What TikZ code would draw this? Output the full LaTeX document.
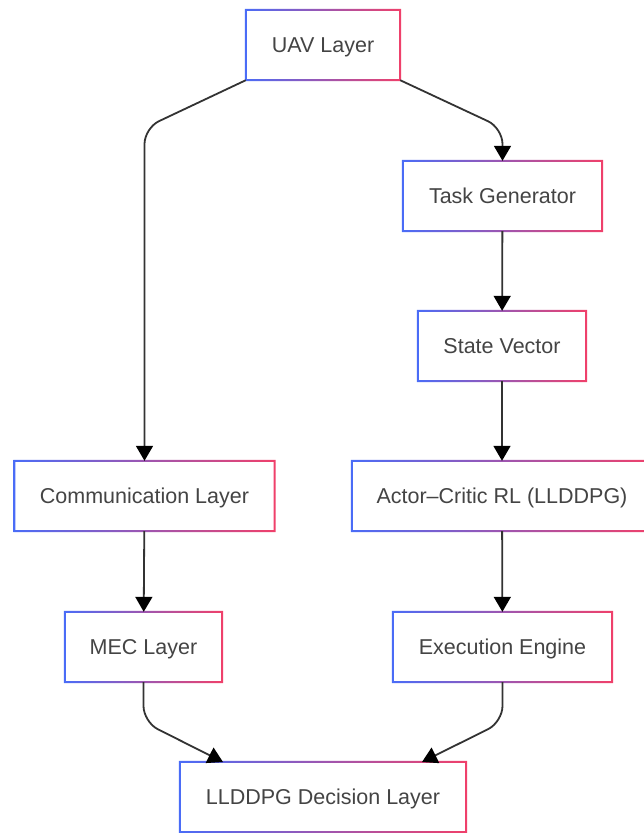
\documentclass[tikz,border=0pt]{standalone}
\usepackage{fontspec}
\setmainfont{Liberation Sans}
\usetikzlibrary{arrows.meta}
\definecolor{edgeblue}{HTML}{4A6CF7}
\definecolor{edgepink}{HTML}{F0406A}
\definecolor{textgray}{HTML}{444444}
\definecolor{linegray}{HTML}{333333}
\tikzset{
	layer/.style={fill=white, text=textgray, font=\fontsize{21.5}{26}\selectfont, minimum height=70pt, inner sep=0pt, text height=15.5pt, text depth=0pt},
	flow/.style={line width=1.8pt, color=linegray, rounded corners=16pt, -{Triangle[width=17pt,length=15pt,color=black]}},
}

\begin{document}
\begin{tikzpicture}[x=1pt, y=-1pt]
			%%%%% START %%%%%
			\useasboundingbox (0, 0) rectangle (644, 833);
			
			\node[layer, minimum width=154pt] (uav) at (323, 45) {UAV Layer};
			\node[layer, minimum width=199pt] (task) at (502.5, 196) {Task Generator};
			\node[layer, minimum width=168pt] (state) at (502, 346) {State Vector};
			\node[layer, minimum width=260pt] (comm) at (144.5, 496) {Communication Layer};
			\node[layer, minimum width=300pt] (actor) at (502, 496) {Actor--Critic RL (LLDDPG)};
			\node[layer, minimum width=157pt] (mec) at (143.5, 647) {MEC Layer};
			\node[layer, minimum width=219pt] (exec) at (502.5, 647) {Execution Engine};
			\node[layer, minimum width=286pt] (decision) at (323, 797) {LLDDPG Decision Layer};
			
			% gradient borders
			\foreach \n in {uav, task, state, comm, actor, mec, exec, decision}
				\shade[left color=edgeblue, right color=edgepink, even odd rule]
					([shift={(-1pt,-1pt)}]\n.south west) rectangle ([shift={(1pt,1pt)}]\n.north east)
					([shift={(1pt,1pt)}]\n.south west) rectangle ([shift={(-1pt,-1pt)}]\n.north east);
			
			\coordinate (bendL) at (144.5, 128);
			\coordinate (bendR) at (502.5, 128);
			\coordinate (dropL) at (143.5, 722);
			\coordinate (dropR) at (502.5, 722);
			\coordinate (inL) at (223, 762);
			\coordinate (inR) at (422, 762);
			
			\draw[flow] (uav.south west) -- (bendL) -- (comm.north);
			\draw[flow] (uav.south east) -- (bendR) -- (task.north);
			\draw[flow] (task) -- (state);
			\draw[flow] (state) -- (actor);
			\draw[flow] (comm) -- (mec);
			\draw[flow] (actor) -- (exec);
			\draw[flow] (mec.south) -- (dropL) -- (inL);
			\draw[flow] (exec.south) -- (dropR) -- (inR);
			
			%%%%% END %%%%%
\end{tikzpicture}
\end{document}
